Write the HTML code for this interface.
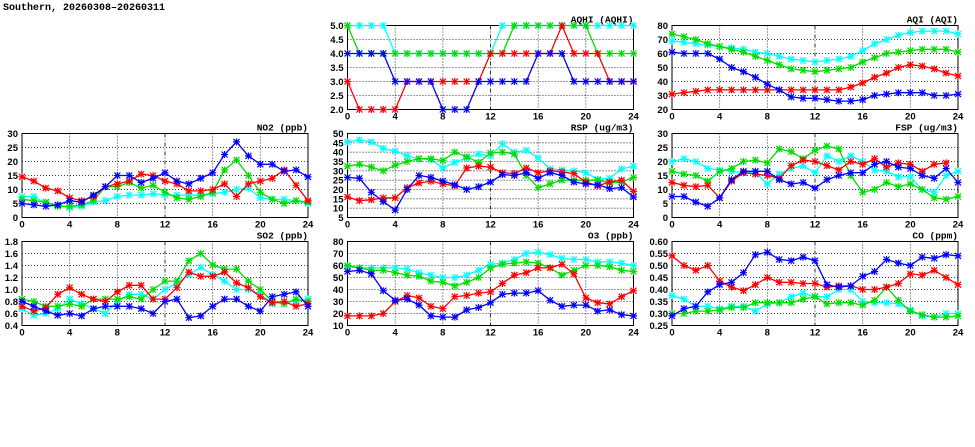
<!DOCTYPE html>
<html><head><meta charset="utf-8">
<style>
html,body{margin:0;padding:0;background:#fff;}
svg{display:block;font-family:"Liberation Sans",sans-serif;}
</style></head>
<body>
<svg id="chart" width="975" height="447" viewBox="0 0 975 447">
<text x="3" y="10" font-size="10" font-weight="bold" font-family="Liberation Mono, monospace">Southern, 20260308–20260311</text>
</svg>
<script>
const hours = [0,1,2,3,4,5,6,7,8,9,10,11,12,13,14,15,16,17,18,19,20,21,22,23,24];
const xTicks = [0,4,8,12,16,20,24];
const seriesColors = ["#00ffff","#00dd00","#ff0000","#0000ff"];

const aqhiCyan = [5,5,5,5,4,4,4,4,4,4,4,4,4,5,5,5,5,5,5,5,5,5,5,5,5];
const aqhiGreen = [5,4,4,4,4,4,4,4,4,4,4,4,4,4,5,5,5,5,5,5,5,4,4,4,4];
const aqhiRed = [3,2,2,2,2,3,3,3,3,3,3,3,4,4,4,4,4,4,5,4,4,4,3,3,3];
const aqhiBlue = [4,4,4,4,3,3,3,3,2,2,2,3,3,3,3,3,4,4,4,3,3,3,3,3,3];
const aqhiTicks = ["2.0","2.5","3.0","3.5","4.0","4.5","5.0"];

const aqiCyan = [69,68,67,66,65,64,63,61,60,58,56,55,54,55,56,58,62,67,70,73,75,76,76,76,74];
const aqiGreen = [74,72,70,67,65,63,61,58,55,52,49,48,47,48,49,50,54,57,60,61,62,63,63,63,61];
const aqiRed = [31,32,33,34,34,34,34,34,34,34,34,34,34,34,34,36,39,43,46,50,52,51,49,46,44];
const aqiBlue = [61,60,60,60,56,50,47,43,38,34,29,28,28,27,26,26,27,30,31,32,32,32,30,30,31];
const aqiTicks = ["20","30","40","50","60","70","80"];

const no2Cyan = [7.5,7.5,5,4.5,3.5,4,5.5,6,7.5,8,8,8.5,8,8,8,8,8.5,9,10,10.5,7,6.5,6.5,6,5];
const no2Green = [6.5,6,5.5,4,4,4.5,6,11,11,12.5,10.5,11.5,9,7,6.5,7.5,9,17,20.5,15,9,6.5,5,6,5.5];
const no2Red = [14.5,13,10.5,9.5,7,6,7.5,11,12,13,15.5,15,13,12,9.5,9.5,10,12,7.5,12,13,14,17,11.5,6];
const no2Blue = [5,4.5,4,4.5,6,5.5,8,11,15,15,12.5,14,16,13,12,14,16,22.5,27,22,19,19,16.5,17,14.5];
const no2Ticks = ["0","5","10","15","20","25","30"];

const rspCyan = [45.5,46.5,45.5,42,40.5,38,36.5,36,31.5,34.5,37,39,38,44.5,40,41,37,31,30.5,30,29,25.5,26,31,32.5];
const rspGreen = [32.5,33.5,32,30,33,35,36.5,36.5,35.5,40,37.5,34.5,39.5,40,39,27.5,21,23,25,25,25,25,23.5,24,26.5];
const rspRed = [16,14,14.5,15.5,15.5,21,23.5,24.5,23,22,31.5,32.5,32,29,28.5,31.5,29,30,29.5,28.5,24,22,24,25,19];
const rspBlue = [26.5,26,18.5,13.5,9,20,27.5,26.5,24.5,22.5,20,21.5,24,28,27.5,29,26,29,27.5,24,23,22.5,20.5,21,16];
const rspTicks = ["5","10","15","20","25","30","35","40","45","50"];

const fspCyan = [20,21,20,17.5,17,16.5,16,16,12,15.5,17.5,18.5,16,22,20,22,20,17,16.5,14.5,14.5,10,9,15,16.5];
const fspGreen = [16.5,15.5,15,13,16.5,17.5,20,20.5,19.5,24.5,23.5,21,24,25.5,24.5,15,9,10,12.5,11,12,10,7,6.5,7.5];
const fspRed = [12.5,11.5,11,11.5,7,13,16,15.5,15,14,18.5,20.5,20,18.5,17,20,19,21,18,19.5,19,16.5,19,19.5,null];
const fspBlue = [7.5,7.5,5.5,4,7,13.5,16.5,16.5,16.5,13.5,12,12.5,10.5,13.5,15,16,16,19,20,18,17.5,15,14,17.5,12.5];
const fspTicks = ["0","5","10","15","20","25","30"];

const so2Cyan = [0.68,0.57,0.6,0.68,0.84,0.76,0.68,0.6,0.8,0.92,0.92,0.84,1.0,1.1,1.25,1.37,1.25,1.14,1.0,1.0,0.92,0.76,0.8,0.8,0.84];
const so2Green = [0.84,0.8,0.72,0.72,0.76,0.72,0.84,0.84,0.84,0.88,0.84,1.0,1.14,1.14,1.48,1.6,1.41,1.34,1.34,1.14,1.0,0.8,0.76,0.84,0.8];
const so2Red = [0.72,0.64,0.7,0.92,1.03,0.92,0.84,0.8,0.96,1.07,1.07,0.84,0.84,1.03,1.29,1.22,1.22,1.29,1.11,1.03,0.88,0.78,0.8,0.72,0.76];
const so2Blue = [0.8,0.72,0.64,0.57,0.6,0.56,0.68,0.72,0.72,0.72,0.68,0.6,0.8,0.84,0.53,0.56,0.72,0.84,0.84,0.72,0.64,0.88,0.92,0.96,0.72];
const so2Ticks = ["0.4","0.6","0.8","1.0","1.2","1.4","1.6","1.8"];

const o3Cyan = [59,58,58,58,58,57,54,52,50,50,52,56,61,62,65,70,71,69,66,65,65,63,63,62,60];
const o3Green = [60,58,56,56,54,52,51,47,46,43,46,50,58,61,62,63,62,58,52,56,60,60,59,56,55];
const o3Red = [18,18,18,20,30,35,33,26,24,34,35,37,38,45,52,54,58,58,61,53,33,29,28,34,39];
const o3Blue = [55,56,53,39,31,32,27,18,17,17,23,25,29,36,37,37,39,31,26,27,27,22,23,19,18];
const o3Ticks = ["10","20","30","40","50","60","70","80"];

const coCyan = [0.375,0.36,0.33,0.33,0.32,0.33,0.33,0.31,0.34,0.345,0.37,0.385,0.37,0.37,0.40,0.40,0.35,0.345,0.345,0.34,0.315,0.29,0.285,0.30,0.30];
const coGreen = [0.30,0.30,0.31,0.31,0.315,0.325,0.325,0.345,0.345,0.345,0.345,0.36,0.37,0.34,0.345,0.345,0.335,0.355,0.41,0.355,0.31,0.295,0.285,0.285,0.29];
const coRed = [0.54,0.50,0.48,0.50,0.435,0.41,0.395,0.42,0.45,0.43,0.43,0.425,0.425,0.41,0.415,0.415,0.40,0.40,0.41,0.425,0.465,0.46,0.48,0.45,0.42];
const coBlue = [0.29,0.32,0.33,0.39,0.42,0.43,0.47,0.545,0.555,0.525,0.52,0.535,0.52,0.42,0.41,0.415,0.455,0.475,0.525,0.51,0.50,0.535,0.53,0.545,0.54];
const coTicks = ["0.25","0.30","0.35","0.40","0.45","0.50","0.55","0.60"];

const NS = "http://www.w3.org/2000/svg";
const svg = document.getElementById("chart");
function mk(tag, attrs, parent){
  const e = document.createElementNS(NS, tag);
  for (const k in attrs) e.setAttribute(k, attrs[k]);
  (parent||svg).appendChild(e);
  return e;
}

const panels = [
  {key:"aqhi", title:"AQHI (AQHI)", col:1,row:0, ticks:aqhiTicks, series:[aqhiCyan,aqhiGreen,aqhiRed,aqhiBlue]},
  {key:"aqi", title:"AQI (AQI)", col:2,row:0, ticks:aqiTicks, series:[aqiCyan,aqiGreen,aqiRed,aqiBlue]},
  {key:"no2", title:"NO2 (ppb)", col:0,row:1, ticks:no2Ticks, series:[no2Cyan,no2Green,no2Red,no2Blue]},
  {key:"rsp", title:"RSP (ug/m3)", col:1,row:1, ticks:rspTicks, series:[rspCyan,rspGreen,rspRed,rspBlue]},
  {key:"fsp", title:"FSP (ug/m3)", col:2,row:1, ticks:fspTicks, series:[fspCyan,fspGreen,fspRed,fspBlue]},
  {key:"so2", title:"SO2 (ppb)", col:0,row:2, ticks:so2Ticks, series:[so2Cyan,so2Green,so2Red,so2Blue]},
  {key:"o3", title:"O3 (ppb)", col:1,row:2, ticks:o3Ticks, series:[o3Cyan,o3Green,o3Red,o3Blue]},
  {key:"co", title:"CO (ppm)", col:2,row:2, ticks:coTicks, series:[coCyan,coGreen,coRed,coBlue]}
];
const colX = [22, 347.5, 672];
const rowY = [25.5, 133.5, 241.5];
const W = 286, H = 84;
const seriesNames = ["cyan","green","red","blue"];

panels.forEach(p => {
  const x0 = colX[p.col], y0 = rowY[p.row];
  const g = mk("g", {});
  
  
  const tv = p.ticks.map(Number);
  const ymin = tv[0], ymax = tv[tv.length-1];
  const xs = h => x0 + h / 24 * W;
  const ys = v => y0 + H - (v - ymin) / (ymax - ymin) * H;

  tv.forEach((v,i) => {
    const y = ys(v);
    if (i>0 && i<tv.length-1) {
      const gl = mk("line", {x1:x0,x2:x0+W,y1:y,y2:y,stroke:"#000","stroke-width":0.8,"stroke-dasharray":"1,2"}, g);
      
      
    }
    const t = mk("text", {x:x0-4,y:y+3.5,"text-anchor":"end","font-size":9.5,"font-weight":"bold"}, g);
    t.textContent = p.ticks[i];
    
    
  });
  xTicks.forEach((h,i) => {
    const x = xs(h);
    if (i>0 && i<xTicks.length-1) {
      const gl = mk("line", {x1:x,x2:x,y1:y0,y2:y0+H,stroke:"#000","stroke-width":0.8,"stroke-dasharray": h===12?"4,2,1,2":"1,2"}, g);
      
      
    }
    const t = mk("text", {x:x,y:y0+H+10,"text-anchor":"middle","font-size":9.5,"font-weight":"bold"}, g);
    t.textContent = h;
    
    
  });
  const frame = mk("rect", {x:x0,y:y0,width:W,height:H,fill:"none",stroke:"#000","stroke-width":1}, g);
  
  
  const title = mk("text", {x:x0+W,y:y0-3,"text-anchor":"end","font-size":9.5,"font-weight":"bold","font-family":"Liberation Mono, monospace"}, g);
  title.textContent = p.title;
  
  

  p.series.forEach((vals, si) => {
    const col = seriesColors[si];
    const sg = mk("g", {}, g);
    
    
    let d = "", pen = false;
    vals.forEach((v,i) => {
      if (v === null) { pen = false; return; }
      d += (pen ? "L" : "M") + xs(hours[i]).toFixed(1) + "," + ys(v).toFixed(1);
      pen = true;
    });
    const line = mk("path", {d:d, fill:"none", stroke:col, "stroke-width":1.3}, sg);
    
    
    vals.forEach((v,i) => {
      if (v === null) return;
      const cx = xs(hours[i]), cy = ys(v);
      const m = mk("path", {d:`M${cx-3},${cy-3}L${cx+3},${cy+3}M${cx-3},${cy+3}L${cx+3},${cy-3}M${cx},${cy-3.5}L${cx},${cy+3.5}M${cx-3.5},${cy}L${cx+3.5},${cy}`, stroke:col,"stroke-width":1.2,fill:"none"}, sg);
      
      
    });
  });
});
</script>
</body></html>
